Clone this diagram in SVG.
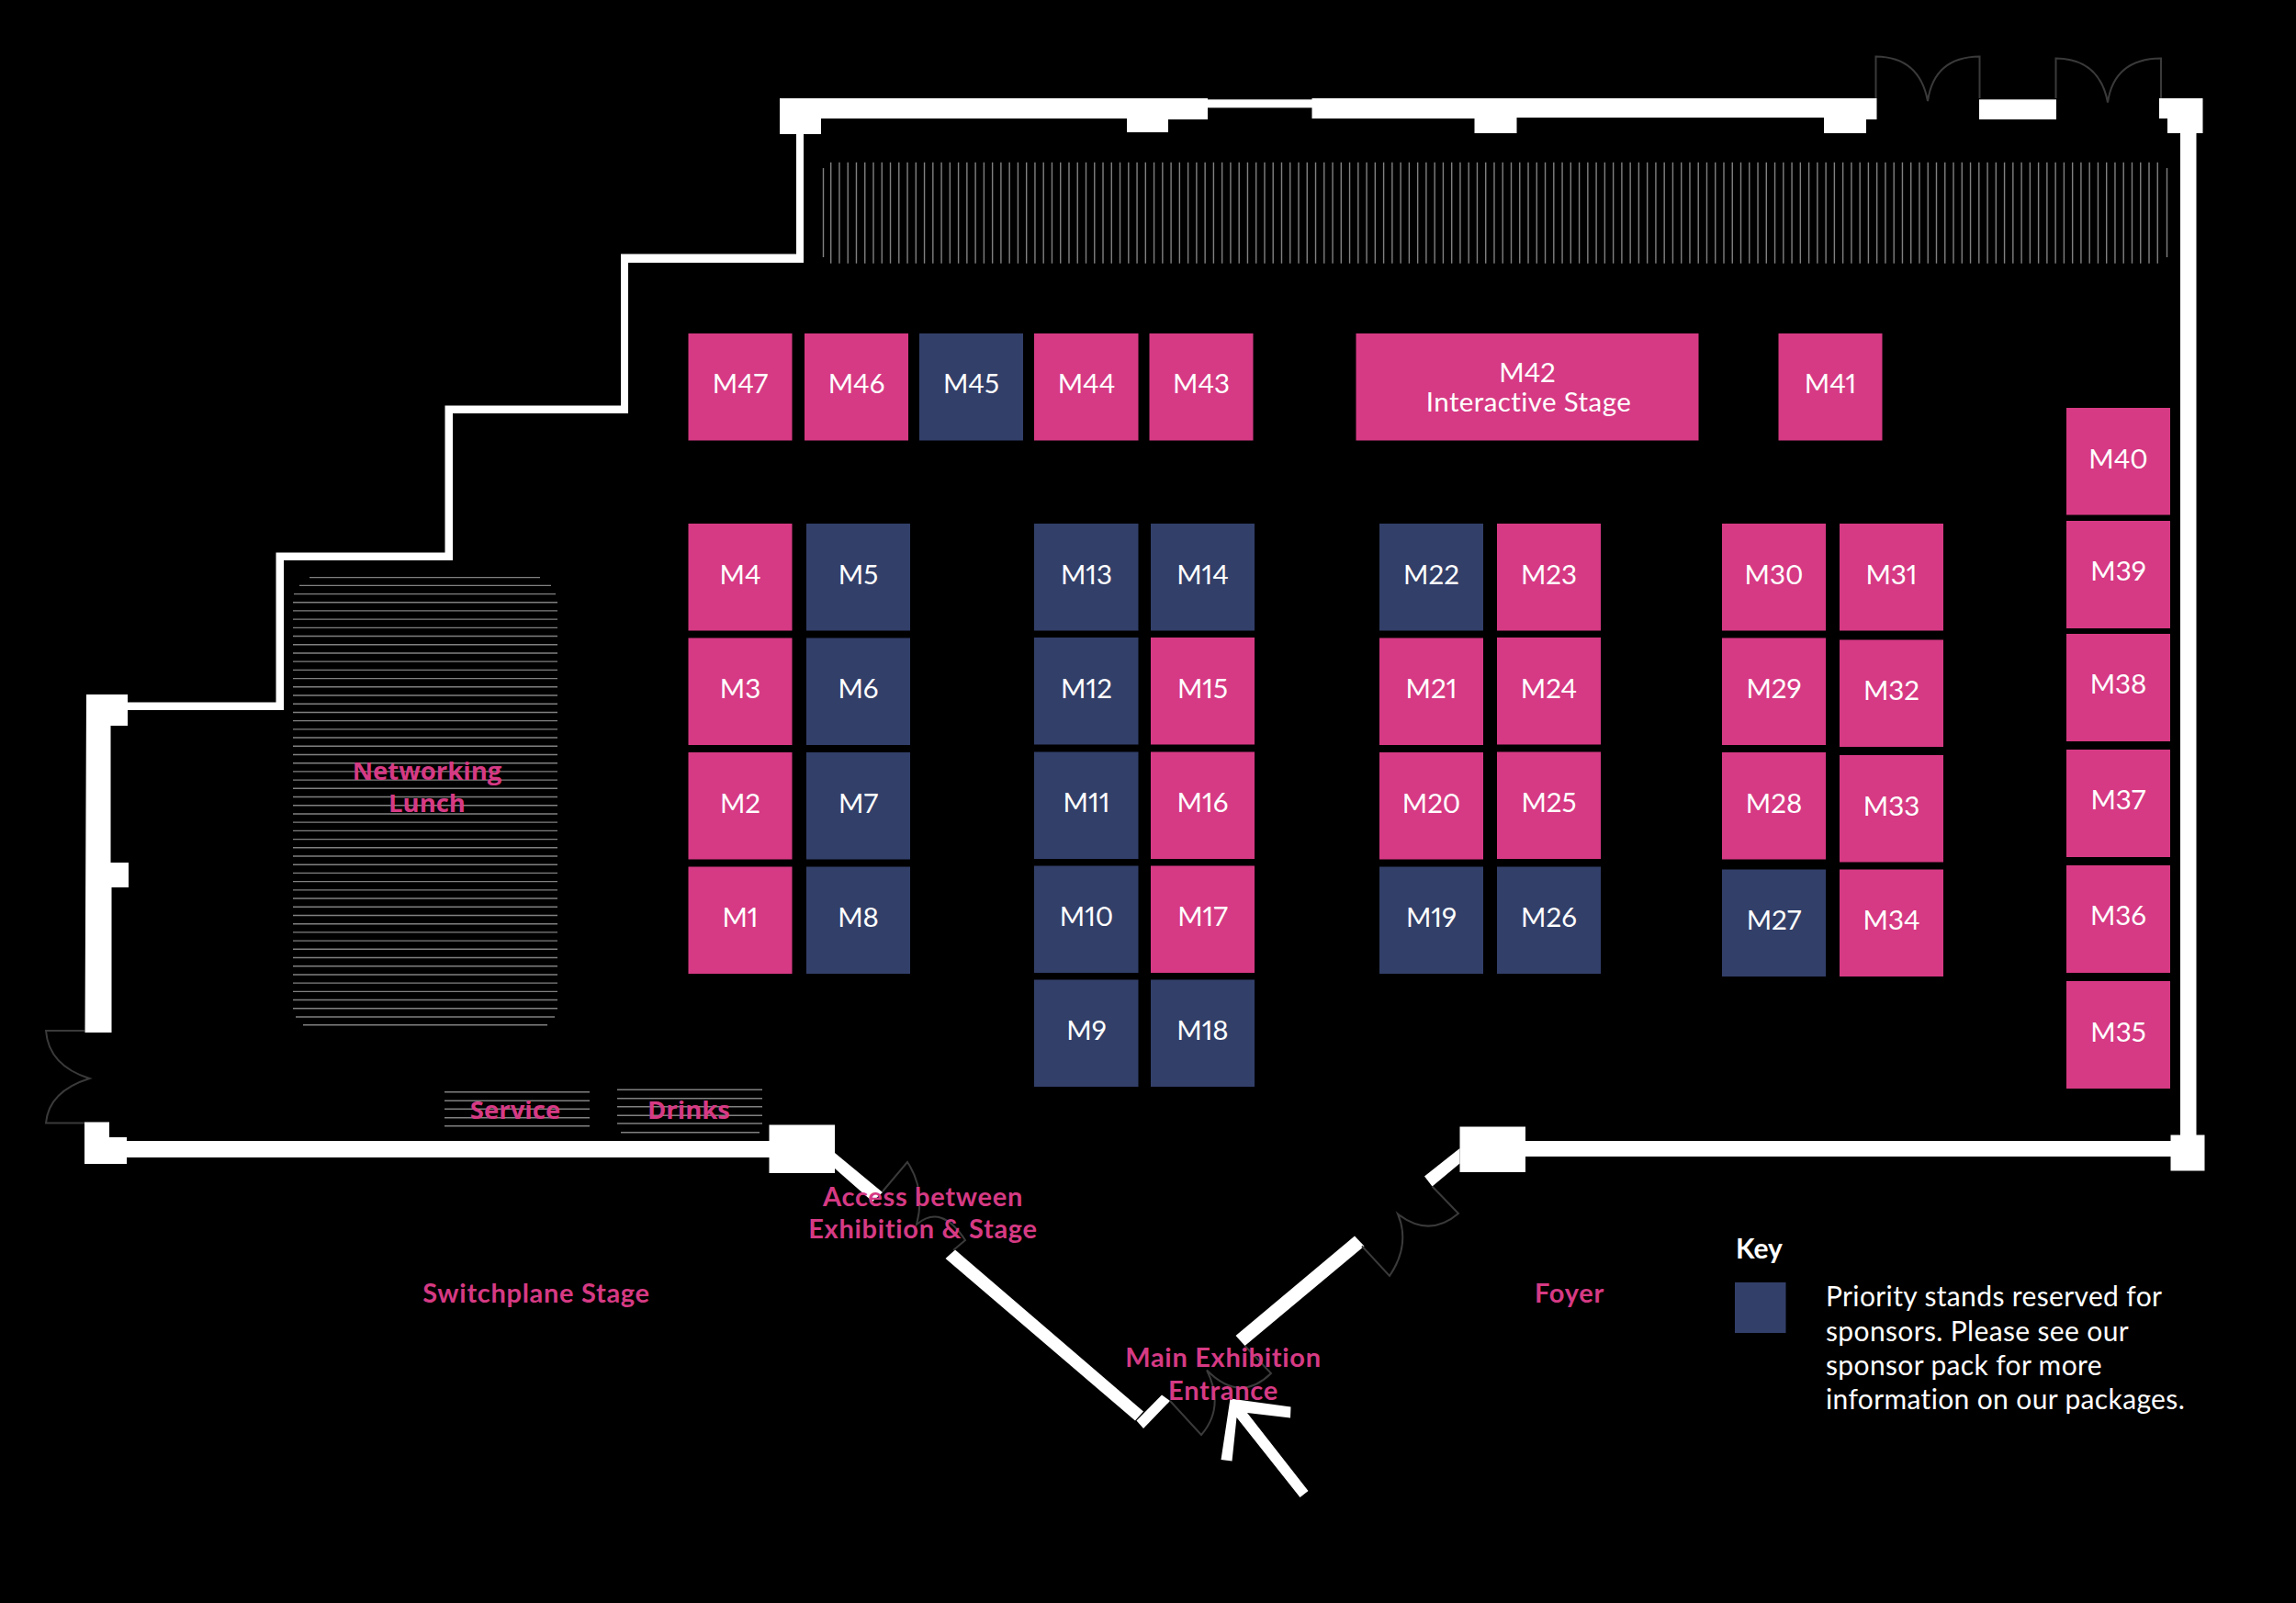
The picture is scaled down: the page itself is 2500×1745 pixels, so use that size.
<svg xmlns="http://www.w3.org/2000/svg" width="2500" height="1745" viewBox="0 0 2500 1745">
<style>
.wall{fill:#fff}
.door{fill:none;stroke:#3a3a3a;stroke-width:2}
.hl{stroke:#808080;stroke-width:1.4;fill:none}
.p{fill:#d63a84}
.n{fill:#323f69}
text{font-family:"Lato","Liberation Sans",sans-serif;font-variant-numeric:proportional-nums;font-variant-ligatures:none}
.s{fill:#fff;font-size:29.500px;text-anchor:middle}
.w{letter-spacing:.4px}
.l{fill:#d63a84;font-size:29px;font-weight:700;letter-spacing:.7px;text-anchor:middle}
.h{fill:#d63a84;font-size:27.500px;font-weight:700;text-anchor:middle;font-family:"Open Sans","Liberation Sans",sans-serif}
.k{fill:#fff;font-size:30px;font-weight:700}
.t{fill:#fff;font-size:30px;letter-spacing:.36px}
</style>
<rect width="2500" height="1745" fill="#000"/>
<g id="hatching" class="hl">
<line x1="896.500" y1="183" x2="896.500" y2="280"/>
<line x1="2359.500" y1="183" x2="2359.500" y2="280"/>
<line x1="904" y1="231.700" x2="2351" y2="231.700" stroke-width="110" stroke-dasharray="1.4 7.86"/>
<line x1="337" y1="628.600" x2="588" y2="628.600"/>
<line x1="326" y1="637.400" x2="600" y2="637.400"/>
<line x1="320" y1="646.600" x2="605" y2="646.600"/>
<line x1="463" y1="655" x2="463" y2="1099" stroke-width="288" stroke-dasharray="1.4 7.81"/>
<line x1="322" y1="1107" x2="604" y2="1107"/>
<line x1="330" y1="1115.800" x2="596" y2="1115.800"/>
<path d="M484 1188.700H642M484 1198.300H642M484 1207.300H642M484 1216.700H642M484 1225.700H642"/>
<path d="M672 1186.300H830M672 1195.700H830M672 1204.700H830M672 1214.300H830M672 1223H830M676 1232.700H827"/>
</g>
<g id="walls" class="wall">
<polygon points="849,107 1315,107 1315,130 1272,130 1272,144 1227,144 1227,129 894,129 894,146 875,146 875,286 684,286 684,450 493,450 493,610 309,610 309,773 139,773 139,790 120.500,790 120.500,939 140,939 140,966 121.500,966 121.500,1124 92.500,1124 94,756 139,756 139,764.500 300.500,764.500 300.500,601.500 484.500,601.500 484.500,441.500 676,441.500 676,276.500 867,276.500 867,146 849,146"/>
<rect x="1315" y="108.300" width="114" height="9"/>
<polygon points="1428.500,107 2043.500,107 2043.500,130 2032,130 2032,145 1986,145 1986,128 1651.500,128 1651.500,145 1605.500,145 1605.500,129 1428.500,129"/>
<rect x="2155" y="108.300" width="84" height="21.700"/>
<polygon points="2351,107 2398.500,107 2398.500,145 2391.500,145 2391.500,1235.500 2400.500,1235.500 2400.500,1274.500 2363.500,1274.500 2363.500,1259 1661,1259 1661,1276 1589.500,1276 1589.500,1226.500 1661,1226.500 1661,1242 2363.500,1242 2363.500,1235.500 2374,1235.500 2374,145 2360,145 2360,129 2351,129"/>
<polygon points="92,1221.500 119,1221.500 119,1238 138,1238 138,1242 837.500,1242 837.500,1224.500 909,1224.500 909,1277 837.500,1277 837.500,1260 138,1260 138,1267 92,1267"/>
<polygon points="909,1255 961,1298 950,1308 909,1272"/>
<polygon points="1040,1360.500 1245,1536.500 1236,1546.500 1029.500,1370"/>
<polygon points="1265,1518.500 1274,1525 1245,1555 1237.500,1546.500"/>
<polygon points="1589.500,1250 1589.500,1266.500 1559.500,1291.500 1551,1280.500"/>
<polygon points="1475,1345.500 1485.500,1356.500 1355.500,1465 1345.500,1454"/>
<polygon id="arrow" points="1339.500,1522.500 1405.500,1531.500 1405,1543.500 1358,1538 1424.500,1623 1415.500,1630 1346.500,1543 1341.500,1590.500 1329.500,1589"/>
</g>
<g id="doors" class="door">
<path d="M2042.500 107V61.500Q2090 62 2099 110Q2106 62 2155.500 61.500V107"/>
<path d="M2238.500 107V63.500Q2286 64 2295 111.500Q2302 64 2353 63.500V107"/>
<path d="M92 1122H50Q53 1160 97.500 1174Q53 1188 50 1222.500H92"/>
<path d="M961 1297L988 1265Q1008 1295 998 1333Q1025 1310 1051 1350L1038 1361"/>
<path d="M1559.500 1291.500L1588 1321Q1556 1348 1522 1321.500Q1536 1355 1513 1389L1483 1356.500"/>
<path d="M1274 1525L1308 1562Q1334 1532 1314 1491.500Q1350 1528 1384 1495L1355.500 1465"/>
</g>
<g id="stands">
<g id="M47"><rect class="p" x="749.500" y="363" width="113" height="116.500"/><text class="s" x="806" y="428">M47</text></g>
<g id="M46"><rect class="p" x="876" y="363" width="113" height="116.500"/><text class="s" x="932.500" y="428">M46</text></g>
<g id="M45"><rect class="n" x="1001" y="363" width="113" height="116.500"/><text class="s" x="1057.500" y="428">M45</text></g>
<g id="M44"><rect class="p" x="1126" y="363" width="113.500" height="116.500"/><text class="s" x="1183" y="428">M44</text></g>
<g id="M43"><rect class="p" x="1251.500" y="363" width="113" height="116.500"/><text class="s" x="1308" y="428">M43</text></g>
<g id="M42"><rect class="p" x="1476.500" y="363" width="373" height="116.500"/><text class="s" x="1663" y="416">M42</text><text class="s w" x="1664.500" y="448">Interactive Stage</text></g>
<g id="M41"><rect class="p" x="1936.500" y="363" width="113" height="116.500"/><text class="s" x="1993" y="428">M41</text></g>
<g id="M40"><rect class="p" x="2250" y="444" width="113" height="116.500"/><text class="s" x="2306.500" y="510">M40</text></g>
<g id="M39"><rect class="p" x="2250" y="567" width="113" height="117"/><text class="s" x="2306.500" y="632">M39</text></g>
<g id="M38"><rect class="p" x="2250" y="690" width="113" height="117"/><text class="s" x="2306.500" y="755">M38</text></g>
<g id="M37"><rect class="p" x="2250" y="816" width="113" height="117"/><text class="s" x="2306.500" y="881">M37</text></g>
<g id="M36"><rect class="p" x="2250" y="942" width="113" height="117"/><text class="s" x="2306.500" y="1007">M36</text></g>
<g id="M35"><rect class="p" x="2250" y="1068" width="113" height="117"/><text class="s" x="2306.500" y="1134">M35</text></g>
<g id="M4"><rect class="p" x="749.500" y="570" width="113" height="116.500"/><text class="s" x="806" y="636">M4</text></g>
<g id="M3"><rect class="p" x="749.500" y="694.500" width="113" height="116.500"/><text class="s" x="806" y="760">M3</text></g>
<g id="M2"><rect class="p" x="749.500" y="819" width="113" height="116.500"/><text class="s" x="806" y="885">M2</text></g>
<g id="M1"><rect class="p" x="749.500" y="943.500" width="113" height="116.500"/><text class="s" x="806" y="1009">M1</text></g>
<g id="M5"><rect class="n" x="878" y="570" width="113" height="116.500"/><text class="s" x="934.500" y="636">M5</text></g>
<g id="M6"><rect class="n" x="878" y="694.500" width="113" height="116.500"/><text class="s" x="934.500" y="760">M6</text></g>
<g id="M7"><rect class="n" x="878" y="819" width="113" height="116.500"/><text class="s" x="934.500" y="885">M7</text></g>
<g id="M8"><rect class="n" x="878" y="943.500" width="113" height="116.500"/><text class="s" x="934.500" y="1009">M8</text></g>
<g id="M13"><rect class="n" x="1126" y="570" width="113.500" height="116.500"/><text class="s" x="1183" y="636">M13</text></g>
<g id="M12"><rect class="n" x="1126" y="694" width="113.500" height="116.500"/><text class="s" x="1183" y="760">M12</text></g>
<g id="M11"><rect class="n" x="1126" y="818.500" width="113.500" height="116.500"/><text class="s" x="1183" y="884">M11</text></g>
<g id="M10"><rect class="n" x="1126" y="942.500" width="113.500" height="116.500"/><text class="s" x="1183" y="1008">M10</text></g>
<g id="M9"><rect class="n" x="1126" y="1066.500" width="113.500" height="116.500"/><text class="s" x="1183" y="1132">M9</text></g>
<g id="M14"><rect class="n" x="1253" y="570" width="113" height="116.500"/><text class="s" x="1309.500" y="636">M14</text></g>
<g id="M15"><rect class="p" x="1253" y="694" width="113" height="116.500"/><text class="s" x="1309.500" y="760">M15</text></g>
<g id="M16"><rect class="p" x="1253" y="818.500" width="113" height="116.500"/><text class="s" x="1309.500" y="884">M16</text></g>
<g id="M17"><rect class="p" x="1253" y="942.500" width="113" height="116.500"/><text class="s" x="1309.500" y="1008">M17</text></g>
<g id="M18"><rect class="n" x="1253" y="1066.500" width="113" height="116.500"/><text class="s" x="1309.500" y="1132">M18</text></g>
<g id="M22"><rect class="n" x="1502" y="570" width="113" height="116.500"/><text class="s" x="1558.500" y="636">M22</text></g>
<g id="M21"><rect class="p" x="1502" y="694.500" width="113" height="116.500"/><text class="s" x="1558.500" y="760">M21</text></g>
<g id="M20"><rect class="p" x="1502" y="819" width="113" height="116.500"/><text class="s" x="1558.500" y="885">M20</text></g>
<g id="M19"><rect class="n" x="1502" y="943.500" width="113" height="116.500"/><text class="s" x="1558.500" y="1009">M19</text></g>
<g id="M23"><rect class="p" x="1630" y="570" width="113" height="116.500"/><text class="s" x="1686.500" y="636">M23</text></g>
<g id="M24"><rect class="p" x="1630" y="694" width="113" height="116.500"/><text class="s" x="1686.500" y="760">M24</text></g>
<g id="M25"><rect class="p" x="1630" y="818.500" width="113" height="116.500"/><text class="s" x="1686.500" y="884">M25</text></g>
<g id="M26"><rect class="n" x="1630" y="943.500" width="113" height="116.500"/><text class="s" x="1686.500" y="1009">M26</text></g>
<g id="M30"><rect class="p" x="1875" y="570" width="113" height="116.500"/><text class="s" x="1931.500" y="636">M30</text></g>
<g id="M29"><rect class="p" x="1875" y="694.500" width="113" height="116.500"/><text class="s" x="1931.500" y="760">M29</text></g>
<g id="M28"><rect class="p" x="1875" y="819" width="113" height="116.500"/><text class="s" x="1931.500" y="885">M28</text></g>
<g id="M27"><rect class="n" x="1875" y="946.500" width="113" height="116.500"/><text class="s" x="1931.500" y="1012">M27</text></g>
<g id="M31"><rect class="p" x="2003" y="570" width="113" height="116.500"/><text class="s" x="2059.500" y="636">M31</text></g>
<g id="M32"><rect class="p" x="2003" y="696.500" width="113" height="116.500"/><text class="s" x="2059.500" y="762">M32</text></g>
<g id="M33"><rect class="p" x="2003" y="822" width="113" height="116.500"/><text class="s" x="2059.500" y="888">M33</text></g>
<g id="M34"><rect class="p" x="2003" y="946.500" width="113" height="116.500"/><text class="s" x="2059.500" y="1012">M34</text></g>
</g>
<g id="labels">
<text class="h" x="465" y="849">Networking</text>
<text class="h" x="465" y="884">Lunch</text>
<text class="h" x="561" y="1218">Service</text>
<text class="h" x="750" y="1218">Drinks</text>
<text class="l" x="1005" y="1313">Access between</text>
<text class="l" x="1005" y="1348">Exhibition &amp; Stage</text>
<text class="l" x="1332" y="1488">Main Exhibition</text>
<text class="l" x="1332" y="1524">Entrance</text>
<text class="l" x="584" y="1418">Switchplane Stage</text>
<text class="l" x="1709" y="1418">Foyer</text>
</g>
<g id="key">
<text class="k" x="1890" y="1370">Key</text>
<rect class="n" x="1889" y="1396" width="55.500" height="55"/>
<text class="t" x="1988" y="1422">Priority stands reserved for</text>
<text class="t" x="1988" y="1459.500">sponsors. Please see our</text>
<text class="t" x="1988" y="1497">sponsor pack for more</text>
<text class="t" x="1988" y="1534">information on our packages.</text>
</g>
</svg>
